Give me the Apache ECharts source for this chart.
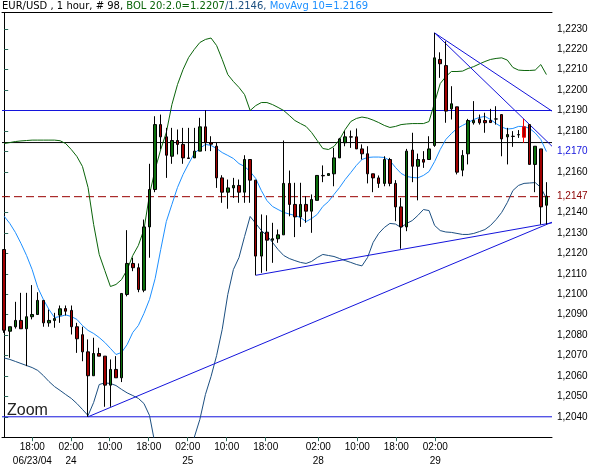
<!DOCTYPE html>
<html><head><meta charset="utf-8">
<script src="https://cdn.jsdelivr.net/npm/echarts@6/dist/echarts.min.js"></script>
<style>html,body{margin:0;padding:0;background:#fff}#c{width:603px;height:472px}</style>
</head><body><div id="c"></div>
<script>
// ---- data (EUR/USD 1 hour, 98 bars) ----
const opens = [1.21219,1.20819,1.20841,1.20872,1.20831,1.2089,1.20901,1.2097,1.2086,1.20872,
1.20898,1.2093,1.20921,1.20841,1.20802,1.20718,1.20601,1.2071,1.20697,1.20555,
1.20632,1.20591,1.20999,1.21151,1.2113,1.2102,1.2133,1.21513,1.21831,1.21771,
1.21676,1.21753,1.21734,1.21668,1.21668,1.21701,1.2182,1.21742,1.21725,1.2157,
1.215,1.21521,1.21533,1.215,1.2166,1.21559,1.21187,1.21304,1.21265,1.21272,
1.21291,1.21543,1.2144,1.21379,1.2144,1.21407,1.2146,1.21582,1.21582,1.2159,
1.21668,1.21742,1.21771,1.21771,1.21712,1.21688,1.2159,1.2157,1.21543,1.2166,
1.21543,1.21428,1.2133,1.21706,1.21627,1.2166,1.2166,1.21729,1.2215,1.2212,
1.21908,1.21918,1.21608,1.21688,1.2184,1.21859,1.21851,1.21851,1.21859,1.2188,
1.21771,1.21774,1.21782,1.2182,1.21831,1.21636,1.21712,1.21436];
const closes = [1.20824,1.20841,1.20872,1.20831,1.2089,1.20901,1.2097,1.2086,1.20872,1.20881,
1.20929,1.20917,1.20841,1.20782,1.20718,1.20601,1.2071,1.20697,1.20555,1.20632,
1.20591,1.21004,1.21151,1.2113,1.21023,1.2133,1.21513,1.21831,1.21771,1.21681,
1.21753,1.21734,1.21668,1.21665,1.21701,1.2182,1.21742,1.21735,1.2157,1.215,
1.21521,1.21533,1.215,1.2166,1.21559,1.21187,1.21304,1.21265,1.21272,1.21291,
1.21543,1.2144,1.21379,1.2144,1.21407,1.21464,1.21582,1.2158,1.21591,1.21668,
1.21761,1.21771,1.2177,1.21712,1.21688,1.2159,1.2157,1.21543,1.2166,1.21543,
1.21428,1.2133,1.21701,1.21627,1.2166,1.21647,1.21712,1.22158,1.22129,1.21897,
1.21933,1.21598,1.2168,1.21851,1.21851,1.2184,1.2184,1.21841,1.21858,1.21761,
1.21782,1.21773,1.21781,1.21769,1.21636,1.21725,1.21428,1.2148];
const lows = [1.20811,1.20689,1.20832,1.20831,1.20648,1.20877,1.20901,1.20841,1.20841,1.20836,
1.2086,1.20896,1.20803,1.20713,1.20672,1.2040,1.20601,1.20697,1.20449,1.20449,
1.20591,1.2057,1.2099,1.21113,1.2101,1.2101,1.21179,1.215,1.21709,1.2157,
1.21639,1.21685,1.21639,1.21665,1.21668,1.21701,1.21701,1.21701,1.21521,1.21448,
1.21419,1.21472,1.21448,1.21448,1.21448,1.21093,1.21105,1.21113,1.21154,1.21252,
1.21291,1.21382,1.2128,1.2133,1.2135,1.21301,1.2146,1.21549,1.21582,1.21529,
1.21668,1.21725,1.21717,1.21712,1.2166,1.21543,1.215,1.21521,1.21529,1.21529,
1.21358,1.21223,1.21309,1.21549,1.2146,1.21619,1.2166,1.21722,1.2206,1.2184,
1.21856,1.21587,1.21578,1.21636,1.21831,1.21831,1.21791,1.21841,1.21831,1.21676,
1.21636,1.21722,1.21766,1.21742,1.21636,1.215,1.21342,1.21342];
const highs = [1.21219,1.20841,1.20963,1.21007,1.21007,1.21045,1.2101,1.2097,1.20925,1.20909,
1.20945,1.20945,1.20945,1.2086,1.20841,1.20779,1.20787,1.20738,1.20697,1.20681,
1.20697,1.21004,1.21314,1.21179,1.21151,1.21366,1.21639,1.21872,1.2188,1.21815,
1.21815,1.21807,1.21815,1.21815,1.21815,1.21864,1.21901,1.21774,1.21742,1.21583,
1.21562,1.2157,1.21562,1.21681,1.2166,1.21559,1.21391,1.21387,1.2135,1.21317,
1.21753,1.21606,1.21546,1.21546,1.2148,1.21489,1.21582,1.21631,1.21591,1.21717,
1.21766,1.21799,1.21802,1.21812,1.21734,1.21725,1.2159,1.21582,1.21676,1.21668,
1.21559,1.21472,1.21712,1.21791,1.21689,1.21701,1.21774,1.2228,1.22185,1.22239,
1.22019,1.21918,1.21706,1.21859,1.21946,1.2188,1.21889,1.21908,1.21921,1.2188,
1.21815,1.21799,1.21804,1.21859,1.21831,1.21725,1.21712,1.21549];
const movAvg10 = [1.21382,1.21347,1.21303,1.21249,1.2119,1.21121,1.21033,1.20975,1.20926,1.20886,
1.20891,1.20899,1.20891,1.20877,1.20847,1.20823,1.20808,1.20788,1.20764,1.20735,
1.20705,1.20715,1.20754,1.20813,1.20847,1.20906,1.20975,1.21077,1.21219,1.21356,
1.2144,1.21523,1.21587,1.2164,1.21689,1.21714,1.21734,1.21729,1.21714,1.21694,
1.2168,1.21665,1.2164,1.21626,1.21601,1.21567,1.21508,1.21459,1.2143,1.21415,
1.21401,1.21393,1.21386,1.21376,1.21356,1.21371,1.21391,1.2143,1.21454,1.21489,
1.21523,1.21562,1.21596,1.21631,1.2166,1.2167,1.21672,1.21672,1.2167,1.21655,
1.21621,1.21592,1.21577,1.21572,1.2157,1.21582,1.21601,1.2165,1.21709,1.21758,
1.21787,1.21812,1.21827,1.21841,1.21856,1.21866,1.21871,1.21856,1.21836,1.21819,
1.21809,1.21812,1.21822,1.21822,1.21812,1.2179,1.21758,1.21699];
const bolUpper = [1.21738,1.21743,1.21748,1.21751,1.21753,1.21755,1.21755,1.21755,1.21755,1.21755,
1.21752,1.21738,1.21709,1.21675,1.21626,1.21523,1.21342,1.21195,1.21116,1.21038,
1.21048,1.21072,1.21121,1.2119,1.21239,1.21317,1.21489,1.21611,1.21709,1.21792,
1.21929,1.22027,1.22101,1.2216,1.22199,1.22233,1.22248,1.22255,1.22218,1.2215,
1.22076,1.22042,1.22013,1.21978,1.2190,1.21924,1.21939,1.21939,1.21929,1.21915,
1.2190,1.21876,1.21851,1.21836,1.21822,1.21792,1.21753,1.21714,1.21709,1.21724,
1.21758,1.21807,1.21846,1.21861,1.21868,1.21863,1.21853,1.21841,1.21827,1.21817,
1.21822,1.21831,1.21834,1.21836,1.21836,1.21836,1.21846,1.21939,1.22032,1.22066,
1.22091,1.22091,1.22093,1.22106,1.22115,1.22128,1.2214,1.2215,1.22155,1.22158,
1.22147,1.22111,1.22098,1.22096,1.22096,1.22098,1.22125,1.22076];
const bolLower = [1.20688,1.20681,1.20671,1.20661,1.20651,1.20641,1.20627,1.20602,1.20573,1.20548,
1.20529,1.20509,1.2049,1.20465,1.20436,1.20406,1.2047,1.20558,1.20566,1.20563,
1.20553,1.20534,1.20517,1.20504,1.2049,1.20465,1.20406,1.20264,1.20166,1.20093,
1.20044,1.20044,1.20093,1.20191,1.20299,1.20387,1.20509,1.20597,1.207,1.20828,
1.20999,1.21121,1.2118,1.21283,1.21381,1.21347,1.21312,1.21288,1.21254,1.21219,
1.2119,1.21175,1.21165,1.21156,1.21151,1.21161,1.2118,1.21195,1.2119,1.21185,
1.21175,1.21165,1.21156,1.21146,1.21139,1.2118,1.21254,1.21298,1.21327,1.21347,
1.21344,1.21327,1.21347,1.21361,1.21386,1.21415,1.2141,1.21337,1.21312,1.21305,
1.21303,1.21298,1.21293,1.21293,1.21298,1.21307,1.21317,1.21337,1.21366,1.21401,
1.21449,1.21508,1.21533,1.21543,1.21545,1.21547,1.21523,1.21469];
// x-axis ticks (in bar units) and their labels
const tickAt   = [5.03, 11.95, 18.87, 25.85, 32.83, 39.8, 46.78, 56.19, 63.17, 70.14, 77.12];
const tickTime = ['18:00','02:00','10:00','18:00','02:00','10:00','18:00','02:00','10:00','18:00','02:00'];
const tickDate = ['06/23/04','24','','','25','','','28','','','29'];
// y-axis labels
const yTicks = [1.2040,1.2050,1.2060,1.2070,1.2080,1.2090,1.2100,1.2110,1.2120,1.2130,1.2140,1.21478,
1.2160,1.2170,1.2180,1.2190,1.2200,1.2210,1.2220,1.2230];
// horizontal levels
const levelResist = 1.2190, levelMid = 1.21743, levelLast = 1.21478, levelSupport = 1.2040;
const levelLastText = '1,2147';
// trend lines [[bar, price],[bar, price]]
const trendLines = [
  [[15, 1.2040], [98, 1.21353]],
  [[45, 1.21093], [98, 1.2135]],
  [[77, 1.2228], [98, 1.21897]],
  [[77, 1.2228], [98, 1.21725]]
];
const markedBar = 93;

// ---- chart ----
const X0 = -0.394, X1 = 98.0, Y0 = 1.2030, Y1 = 1.2238;
const candles = opens.map((o, i) => {
  const v = [i, o, closes[i], lows[i], highs[i]];
  if (i === markedBar) return {value: v, itemStyle: {borderColor: '#ff0000', borderColor0: '#ff0000'}};
  return v;
});
const FONT = 'Liberation Sans';
const near = (a, b) => Math.abs(a - b) < 1e-7;

const chart = echarts.init(document.getElementById('c'), null, {renderer: 'canvas'});
const series = [];
function hline(v, color, type) {
  series.push({
    type: 'line', data: [[X0, v], [X1, v]], showSymbol: false, silent: true, z: 1,
    lineStyle: {color: color, width: 1, type: type || 'solid'}
  });
}
hline(levelResist, '#1414dc');
hline(levelMid, '#000000');
hline(levelLast, '#990000', [8, 4]);
hline(levelSupport, '#1414dc');
series.push(
  {type: 'line', data: bolUpper.map((v, i) => [i, v]), showSymbol: false, silent: true,
   lineStyle: {color: '#0a640a', width: 1}, z: 2},
  {type: 'line', data: bolLower.map((v, i) => [i, v]), showSymbol: false, silent: true,
   lineStyle: {color: '#1c4f80', width: 1}, z: 2},
  {type: 'line', data: movAvg10.map((v, i) => [i, v]), showSymbol: false, silent: true,
   lineStyle: {color: '#1e90ff', width: 1}, z: 2}
);
trendLines.forEach(tl => series.push({
  type: 'line', data: tl, showSymbol: false, silent: true,
  lineStyle: {color: '#1414dc', width: 1}, z: 3
}));
series.push({
  type: 'candlestick', data: candles, encode: {x: 0, y: [1, 2, 3, 4]},
  barWidth: 3, z: 4,
  itemStyle: {color: '#0b6e0b', color0: '#a00000', borderColor: '#000', borderColor0: '#000', borderWidth: 1}
});

const TF = 'DejaVu Sans';
const frameAxis = {
  axisLine: {show: true, lineStyle: {color: '#000'}}, axisTick: {show: false},
  axisLabel: {show: false}, splitLine: {show: false}
};
chart.setOption({
  animation: false,
  backgroundColor: '#fff',
  title: {
    left: 2, top: 1, padding: 0,
    text: '{a|EUR/USD , 1 hour, # 98, }{b|BOL 20:2.0=1.2207}{c|/1.2146, }{d|MovAvg 10=1.2169}',
    textStyle: {
      fontFamily: TF, fontSize: 10, fontWeight: 'normal',
      rich: {
        a: {color: '#000', fontFamily: TF, fontSize: 10},
        b: {color: '#0a640a', fontFamily: TF, fontSize: 10},
        c: {color: '#1c4f80', fontFamily: TF, fontSize: 10},
        d: {color: '#1e90ff', fontFamily: TF, fontSize: 10}
      }
    }
  },
  grid: {left: 2, top: 12.5, width: 550, height: 424.7, show: false, containLabel: false},
  xAxis: [{
    type: 'value', min: X0, max: X1, position: 'bottom',
    axisLine: {show: true, lineStyle: {color: '#000'}},
    splitLine: {show: false},
    axisTick: {show: true, length: 4, customValues: tickAt, lineStyle: {color: '#2e6b5b'}},
    axisLabel: {
      customValues: tickAt, margin: 3, color: '#000', fontFamily: FONT, fontSize: 10, lineHeight: 14,
      formatter: v => {
        const k = tickAt.findIndex(t => Math.abs(t - v) < 1e-6);
        if (k < 0) return '';
        return tickDate[k] ? tickTime[k] + '\n' + tickDate[k] : tickTime[k];
      }
    }
  }, Object.assign({type: 'value', min: X0, max: X1, position: 'top'}, frameAxis)],
  yAxis: [{
    type: 'value', position: 'right', min: Y0, max: Y1, interval: 0.001,
    axisLine: {show: true, lineStyle: {color: '#000'}},
    splitLine: {show: false},
    axisTick: {show: true, length: 4, customValues: yTicks, lineStyle: {color: '#2e6b5b'}},
    axisLabel: {
      customValues: yTicks, margin: 5, color: '#000', fontFamily: FONT, fontSize: 10,
      formatter: v => {
        if (near(v, levelLast)) return '{r|' + levelLastText + '}';
        const s = v.toFixed(4).replace('.', ',');
        if (near(v, 1.2170)) return '{b|' + s + '}';
        return s;
      },
      rich: {
        b: {color: '#1414dc', fontFamily: FONT, fontSize: 10},
        r: {color: '#8b0000', fontFamily: FONT, fontSize: 10}
      }
    }
  }, Object.assign({type: 'value', min: Y0, max: Y1, interval: 0.001, position: 'left'}, frameAxis)],
  graphic: [{
    type: 'text', left: 7, top: 403, z: 10, silent: true,
    style: {text: 'Zoom', fill: '#222', font: '16px "Liberation Sans"'}
  }],
  series: series
});
</script></body></html>
